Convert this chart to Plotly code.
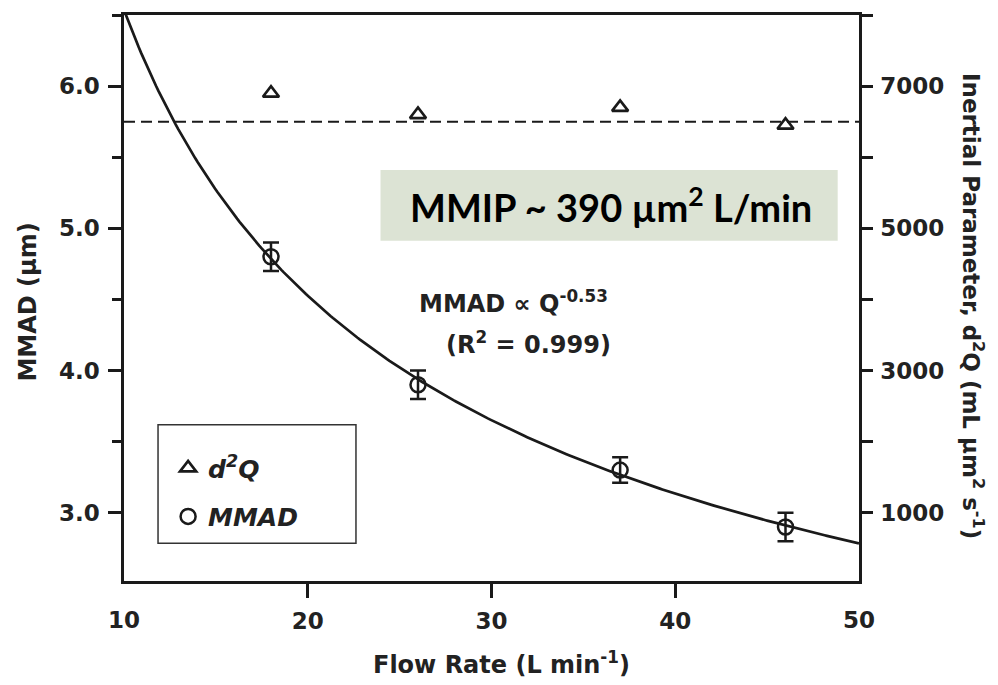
import numpy as np
import plotly.graph_objects as go

# Measured data
flow_rate = [18, 26, 37, 46]            # L/min
mmad = [4.8, 3.9, 3.3, 2.9]             # µm
mmad_err = [0.1, 0.1, 0.09, 0.1]        # µm
d2q = [6900, 6600, 6700, 6450]          # mL µm² s⁻¹
mmip = 6500                             # 390 µm² L/min in mL µm² s⁻¹
fit_exponent = -0.53

# Axis extents
q_range = [10, 50]
mmad_range = [2.52, 6.5]
d2q_range = [40, 8000]
x_ticks = [10, 20, 30, 40, 50]
mmad_ticks = [3.0, 4.0, 5.0, 6.0]
d2q_ticks = [1000, 3000, 5000, 7000]

# Power-law fit MMAD = k * Q^b with b from the regression label
q = np.asarray(flow_rate, dtype=float)
k = np.exp(np.mean(np.log(mmad) - fit_exponent * np.log(q)))
q_fit = np.linspace(q_range[0], q_range[1], 300)
mmad_fit = k * q_fit ** fit_exponent

INK = "#1a1a1a"
FONT = "DejaVu Sans"

fig = go.Figure()

fig.add_trace(go.Scatter(
    x=q_fit, y=mmad_fit, mode="lines",
    line=dict(color=INK, width=2.7), showlegend=False, hoverinfo="skip"))

fig.add_trace(go.Scatter(
    x=q_range, y=[mmip, mmip], yaxis="y2", mode="lines",
    line=dict(color=INK, width=2, dash="11px,6px"), showlegend=False))

fig.add_trace(go.Scatter(
    x=flow_rate, y=d2q, yaxis="y2", mode="markers",
    name="<i>d<sup>2</sup>Q</i>", legendgroup="d2q",
    marker=dict(symbol="triangle-up-open", size=14, color=INK,
                line=dict(width=2.7, color=INK))))

fig.add_trace(go.Scatter(
    x=flow_rate, y=mmad, mode="markers",
    name="<i>MMAD</i>", legendgroup="mmad",
    error_y=dict(type="data", array=mmad_err, thickness=2.5, width=8, color=INK),
    marker=dict(symbol="circle-open", size=15, color=INK,
                line=dict(width=2.5, color=INK))))

tick_font = dict(family=FONT, size=23, color="#222", weight="bold")
title_font = dict(family=FONT, size=24, color="#222", weight="bold")

fig.update_layout(
    width=998, height=685,
    margin=dict(l=124, r=139, t=12, b=104),
    paper_bgcolor="white", plot_bgcolor="white",
    showlegend=True,
    legend=dict(x=0.06, y=0.24, xanchor="left", yanchor="top",
                bgcolor="rgba(0,0,0,0)", borderwidth=0,
                traceorder="grouped", tracegroupgap=13,
                font=dict(family=FONT, size=25, color="#222", weight="bold")),
    # interior ticks only; the end labels sit at the frame corners
    xaxis=dict(range=q_range, tickvals=x_ticks[1:-1],
               ticks="outside", ticklen=14, tickwidth=2.5, tickcolor=INK,
               ticklabelstandoff=4,
               showline=True, mirror=True, linewidth=2.5, linecolor=INK,
               showgrid=False, zeroline=False, tickfont=tick_font),
    yaxis=dict(range=mmad_range, tickvals=mmad_ticks, tickformat=".1f",
               ticks="outside", ticklen=13, tickwidth=2.5, tickcolor=INK,
               minor=dict(dtick=0.5, tick0=0, ticks="outside", ticklen=9,
                          tickwidth=2.5, tickcolor=INK),
               ticklabelstandoff=4,
               showline=True, linewidth=2.5, linecolor=INK,
               showgrid=False, zeroline=False, tickfont=tick_font),
    yaxis2=dict(range=d2q_range, tickvals=d2q_ticks, overlaying="y", side="right",
                anchor="x", ticks="outside", ticklen=11, tickwidth=2.5, tickcolor=INK,
                minor=dict(dtick=1000, tick0=0, ticks="outside", ticklen=11,
                           tickwidth=2.5, tickcolor=INK),
                ticklabelstandoff=3,
                showline=True, linewidth=2.5, linecolor=INK,
                showgrid=False, zeroline=False, tickfont=tick_font),
)

# End labels of the flow-rate axis
for xv in (x_ticks[0], x_ticks[-1]):
    fig.add_annotation(xref="x", yref="paper", x=xv, y=-0.0685,
                       xanchor="center", yanchor="middle", showarrow=False,
                       text=str(xv), font=tick_font)

# Legend frame
fig.add_shape(type="rect", xref="paper", yref="paper",
              x0=0.0463, x1=0.3156, y0=0.0668, y1=0.2759,
              line=dict(color="#333", width=1.5), fillcolor="rgba(0,0,0,0)")

# MMIP callout box
fig.add_shape(type="rect", xref="paper", yref="paper",
              x0=0.349, x1=0.971, y0=0.601, y1=0.726,
              line=dict(width=0), fillcolor="rgb(220,227,212)", layer="below")
fig.add_annotation(xref="paper", yref="paper", x=0.662, y=0.6635,
                   xanchor="center", yanchor="middle", showarrow=False,
                   text="<b>MMIP ~ 390 µm<sup>2</sup> L/min</b>",
                   font=dict(family="Lato", size=38, color="black", weight="bold"))

# Fit equation
fig.add_annotation(xref="paper", yref="paper", x=0.5306, y=0.4938,
                   xanchor="center", yanchor="middle", showarrow=False,
                   text="MMAD ∝ Q<sup>-0.53</sup>", font=title_font)
fig.add_annotation(xref="paper", yref="paper", x=0.5497, y=0.42,
                   xanchor="center", yanchor="middle", showarrow=False,
                   text="(R<sup>2</sup> = 0.999)", font=title_font)

# Axis titles
fig.add_annotation(xref="paper", yref="paper", x=0.513, y=-0.144,
                   xanchor="center", yanchor="middle", showarrow=False,
                   text="Flow Rate (L min<sup>-1</sup>)", font=title_font)
fig.add_annotation(xref="paper", yref="paper", x=-0.1306, y=0.492,
                   xanchor="center", yanchor="middle", showarrow=False,
                   textangle=-90, text="MMAD (µm)", font=title_font)
fig.add_annotation(xref="paper", yref="paper", x=1.155, y=0.486,
                   xanchor="center", yanchor="middle", showarrow=False,
                   textangle=90,
                   text="Inertial Parameter, d<sup>2</sup>Q (mL µm<sup>2</sup> s<sup>-1</sup>)",
                   font=dict(family=FONT, size=23, color="#222", weight="bold"))

fig.write_html("out.html")
